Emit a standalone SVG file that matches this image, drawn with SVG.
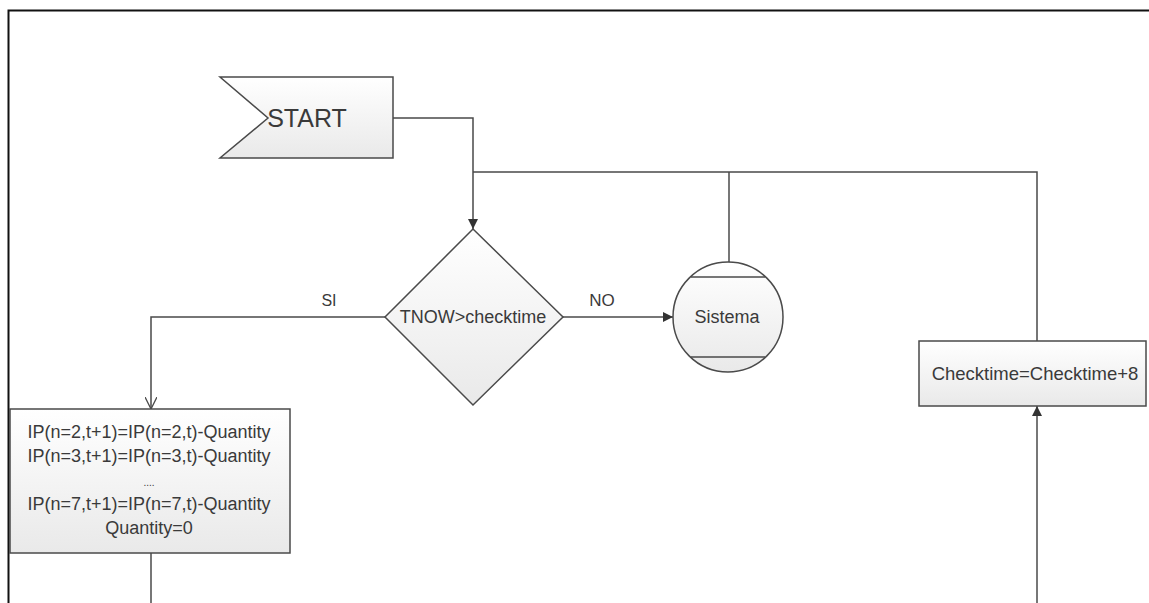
<svg xmlns="http://www.w3.org/2000/svg" width="1149" height="603" viewBox="0 0 1149 603">
  <style>
    .shape { fill: url(#shade); stroke: #4a4a4a; stroke-width: 1.5; }
    .line { fill: none; stroke: #4a4a4a; stroke-width: 1.5; }
    .txt { font-family: "Liberation Sans", Arial, sans-serif; fill: #3a3a3a; text-anchor: middle; }
  </style>
  <defs>
    <linearGradient id="shade" x1="0" y1="0" x2="0" y2="1">
      <stop offset="0" stop-color="#ffffff"/>
      <stop offset="1" stop-color="#e9e9e9"/>
    </linearGradient>
    <marker id="solid" viewBox="0 0 10 10" refX="10" refY="5" markerWidth="10" markerHeight="10" markerUnits="userSpaceOnUse" orient="auto">
      <path d="M0,0 L10,5 L0,10 Z" fill="#333"/>
    </marker>
    <marker id="open" viewBox="0 0 12 12" refX="12" refY="6" markerWidth="12" markerHeight="12" markerUnits="userSpaceOnUse" orient="auto">
      <path d="M0,0 L12,6 L0,12" fill="none" stroke="#4a4a4a" stroke-width="1.3"/>
    </marker>
  </defs>

  <rect width="1149" height="603" fill="#fff"/>
  <!-- page border -->
  <path d="M8.5,610 V10.5 H1160" fill="none" stroke="#111" stroke-width="2"/>

  <g id="connectors">
    <path class="line" d="M393,118 H473 V229" marker-end="url(#solid)"/>
    <path class="line" d="M473,172 H1037 V341"/>
    <path class="line" d="M729,172 V263"/>
    <path class="line" d="M563,317 H673" marker-end="url(#solid)"/>
    <path class="line" d="M385,317 H151 V409" marker-end="url(#open)"/>
    <path class="line" d="M151,553 V603"/>
    <path class="line" d="M1037,603 V406" marker-end="url(#solid)"/>
    <text class="txt" x="329" y="306" font-size="16">SI</text>
    <text class="txt" x="602" y="306" font-size="17">NO</text>
  </g>

  <g id="start">
    <path class="shape" d="M220,77 H393 V158 H220 L268,118 Z"/>
    <text class="txt" x="307" y="127" font-size="25">START</text>
  </g>

  <g id="decision">
    <path class="shape" d="M473,229 L563,317 L473,405 L385,317 Z"/>
    <text class="txt" x="473" y="323" font-size="18">TNOW&gt;checktime</text>
  </g>

  <g id="sistema">
    <circle class="shape" cx="728" cy="317" r="55"/>
    <path class="line" d="M691,277 H765 M691,357 H765"/>
    <text class="txt" x="727" y="323" font-size="18">Sistema</text>
  </g>

  <g id="update">
    <rect class="shape" x="10" y="409" width="280" height="144"/>
    <g class="txt" font-size="18">
      <text x="149" y="438">IP(n=2,t+1)=IP(n=2,t)-Quantity</text>
      <text x="149" y="462">IP(n=3,t+1)=IP(n=3,t)-Quantity</text>
      <text x="149" y="486" font-size="10">....</text>
      <text x="149" y="510">IP(n=7,t+1)=IP(n=7,t)-Quantity</text>
      <text x="149" y="534">Quantity=0</text>
    </g>
  </g>

  <g id="checktime">
    <rect class="shape" x="919" y="341" width="227" height="65"/>
    <text class="txt" x="1035" y="380" font-size="18.5">Checktime=Checktime+8</text>
  </g>
</svg>
